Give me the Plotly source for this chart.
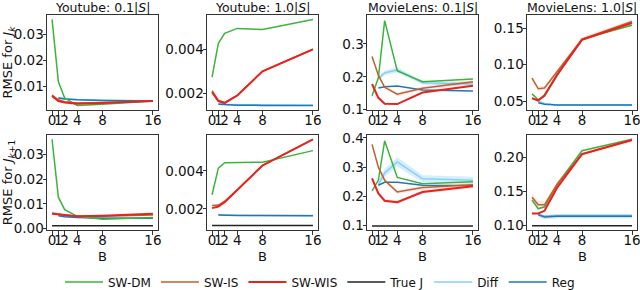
import plotly.graph_objects as go

# ---------------- data ----------------
B_all = [0, 1, 2, 4, 8, 16]
B_reg = [1, 2, 4, 8, 16]

panel_titles = ["Youtube: 0.1|<i>S</i>|", "Youtube: 1.0|<i>S</i>|",
                "MovieLens: 0.1|<i>S</i>|", "MovieLens: 1.0|<i>S</i>|"]
row_labels = ["RMSE for <i>J<sub>k</sub></i>", "RMSE for <i>J</i><sub><i>k</i>+1</sub>"]
x_ticks = [0, 1, 2, 4, 8, 16]
x_ticklabels = ["0", "1", "2", "4", "8", "16"]

# row 1 (J_k)
r1_dm = [
    [0.0357, 0.0120, 0.0057, 0.0028, 0.0033, 0.0045],
    [0.00273, 0.00427, 0.00473, 0.00495, 0.0049, 0.00536],
    [0.142, 0.197, 0.371, 0.218, 0.185, 0.193],
    [0.060, 0.052, 0.057, 0.085, 0.135, 0.154],
]
r1_is = [
    [0.0068, 0.0050, 0.0043, 0.0038, 0.0040, 0.0045],
    [0.00212, 0.00168, 0.00158, 0.0019, 0.0030, 0.0040],
    [0.262, 0.205, 0.168, 0.147, 0.165, 0.185],
    [0.0815, 0.067, 0.068, 0.090, 0.135, 0.159],
]
r1_wis = [
    [0.0065, 0.0045, 0.0040, 0.0035, 0.0038, 0.0045],
    [0.00205, 0.00164, 0.00155, 0.0019, 0.0030, 0.0040],
    [0.178, 0.136, 0.118, 0.117, 0.152, 0.173],
    [0.054, 0.051, 0.058, 0.086, 0.134, 0.157],
]
r1_diff = [
    [0.0059, 0.0054, 0.0051, 0.0048, 0.0046],
    [0.00153, 0.0015, 0.00148, 0.00147, 0.00146],
    [0.195, 0.212, 0.221, 0.182, 0.178],
    [0.050, 0.047, 0.045, 0.045, 0.045],
]
r1_reg = [
    [0.0057, 0.0053, 0.0050, 0.0047, 0.0045],
    [0.0015, 0.00148, 0.00146, 0.00145, 0.00144],
    [0.166, 0.170, 0.172, 0.160, 0.157],
    [0.048, 0.046, 0.045, 0.045, 0.045],
]

# row 2 (J_{k+1})
r2_dm = [
    [0.0360, 0.0127, 0.0077, 0.0050, 0.0038, 0.0045],
    [0.00274, 0.00414, 0.00442, 0.00442, 0.00445, 0.00506],
    [0.219, 0.255, 0.390, 0.265, 0.243, 0.250],
    [0.137, 0.124, 0.127, 0.160, 0.210, 0.227],
]
r2_is = [
    [0.0063, 0.0058, 0.0055, 0.0050, 0.0050, 0.0055],
    [0.00218, 0.0022, 0.0024, 0.0030, 0.00428, 0.00565],
    [0.378, 0.300, 0.255, 0.215, 0.230, 0.240],
    [0.141, 0.130, 0.130, 0.160, 0.205, 0.226],
]
r2_wis = [
    [0.0060, 0.0057, 0.0053, 0.0050, 0.0052, 0.0060],
    [0.00204, 0.00212, 0.00235, 0.0030, 0.00428, 0.00565],
    [0.262, 0.210, 0.185, 0.180, 0.215, 0.235],
    [0.117, 0.117, 0.121, 0.155, 0.205, 0.226],
]
r2_true = [0.0012, 0.00112, 0.099, 0.099]
r2_diff = [
    [0.0055, 0.0050, 0.0047, 0.0044, 0.0043],
    [0.0017, 0.00167, 0.00166, 0.00166, 0.00165],
    [0.240, 0.280, 0.318, 0.260, 0.255],
    [0.116, 0.113, 0.114, 0.114, 0.114],
]
r2_reg = [
    [0.0052, 0.0048, 0.0045, 0.0042, 0.0042],
    [0.00168, 0.00166, 0.00165, 0.00165, 0.00164],
    [0.238, 0.248, 0.248, 0.238, 0.237],
    [0.115, 0.112, 0.113, 0.113, 0.113],
]

# faint uncertainty bands (half-widths): (row, col, method) -> values
band_halfwidth = {
    (0, 2, "Diff"): [0.006, 0.007, 0.008, 0.006, 0.006],
    (0, 2, "SW-IS"): [0.006, 0.006, 0.006, 0.006, 0.006, 0.006],
    (0, 3, "SW-IS"): [0.003, 0.003, 0.003, 0.003, 0.003, 0.003],
    (1, 2, "Diff"): [0.012, 0.014, 0.016, 0.012, 0.012],
    (1, 2, "SW-IS"): [0.008, 0.008, 0.008, 0.008, 0.007, 0.007],
    (1, 2, "SW-WIS"): [0.006, 0.006, 0.006, 0.006, 0.006, 0.006],
    (1, 3, "SW-IS"): [0.006, 0.006, 0.006, 0.004, 0.003, 0.003],
    (1, 3, "Reg"): [0.003, 0.003, 0.003, 0.003, 0.003],
}

y_ranges = [
    [[0.0011, 0.0374], [0.00124, 0.00556], [0.099, 0.388], [0.038, 0.168]],
    [[-0.0005, 0.0377], [0.00089, 0.00588], [0.085, 0.41], [0.0926, 0.2334]],
]
y_ticks = [
    [[0.01, 0.02, 0.03], [0.002, 0.004], [0.1, 0.2, 0.3], [0.05, 0.10, 0.15]],
    [[0.00, 0.01, 0.02, 0.03], [0.002, 0.004], [0.1, 0.2, 0.3, 0.4], [0.10, 0.15, 0.20]],
]
y_ticklabels = [
    [["0.01", "0.02", "0.03"], ["0.002", "0.004"], ["0.1", "0.2", "0.3"], ["0.05", "0.10", "0.15"]],
    [["0.00", "0.01", "0.02", "0.03"], ["0.002", "0.004"], ["0.1", "0.2", "0.3", "0.4"], ["0.10", "0.15", "0.20"]],
]

# ---------------- style ----------------
C = {"SW-DM": "#3cb43c", "SW-IS": "#b8652f", "SW-WIS": "#e8231d",
     "True J": "#222222", "Diff": "#87cefa", "Reg": "#1f77b4"}
BAND = {"SW-DM": "rgba(60,180,60,0.15)", "SW-IS": "rgba(232,80,60,0.13)",
        "SW-WIS": "rgba(232,35,29,0.12)", "Diff": "rgba(135,206,250,0.35)",
        "Reg": "rgba(31,119,180,0.2)"}
RANK = {"SW-DM": 1, "SW-IS": 2, "SW-WIS": 3, "True J": 4, "Diff": 5, "Reg": 6}
W, H = 640, 290
FONT = "DejaVu Sans"

px_x = [(47, 158), (207, 318), (367, 478), (527, 637)]
px_y = [(15, 110), (135, 230)]

fig = go.Figure()
shown = set()


def axn(ax_idx):
    return ("x" if ax_idx == 1 else f"x{ax_idx}", "y" if ax_idx == 1 else f"y{ax_idx}")


def add(name, x, y, ax_idx, r, c):
    xa, ya = axn(ax_idx)
    hw = band_halfwidth.get((r, c, name))
    if hw:
        fig.add_trace(go.Scatter(x=x, y=[v + h for v, h in zip(y, hw)], mode="lines",
                                 line=dict(width=0), showlegend=False, hoverinfo="skip",
                                 xaxis=xa, yaxis=ya))
        fig.add_trace(go.Scatter(x=x, y=[v - h for v, h in zip(y, hw)], mode="lines",
                                 line=dict(width=0), fill="tonexty", fillcolor=BAND[name],
                                 showlegend=False, hoverinfo="skip", xaxis=xa, yaxis=ya))
    sl = name not in shown
    shown.add(name)
    fig.add_trace(go.Scatter(
        x=x, y=y, mode="lines", name=name, legendgroup=name, showlegend=sl,
        legendrank=RANK[name],
        line=dict(color=C[name], width=2 if name == "SW-WIS" else 1.5),
        xaxis=xa, yaxis=ya,
    ))


for r in range(2):
    for c in range(4):
        idx = r * 4 + c + 1
        if r == 0:
            add("Diff", B_reg, r1_diff[c], idx, r, c)
            add("Reg", B_reg, r1_reg[c], idx, r, c)
            add("SW-DM", B_all, r1_dm[c], idx, r, c)
            add("SW-IS", B_all, r1_is[c], idx, r, c)
            add("SW-WIS", B_all, r1_wis[c], idx, r, c)
        else:
            add("True J", B_all, [r2_true[c]] * len(B_all), idx, r, c)
            add("Diff", B_reg, r2_diff[c], idx, r, c)
            add("Reg", B_reg, r2_reg[c], idx, r, c)
            add("SW-DM", B_all, r2_dm[c], idx, r, c)
            add("SW-IS", B_all, r2_is[c], idx, r, c)
            add("SW-WIS", B_all, r2_wis[c], idx, r, c)

        sfx = "" if idx == 1 else str(idx)
        x0, x1 = px_x[c]
        y0, y1 = px_y[r]
        axstyle = dict(showline=True, mirror=True, linecolor="#333333", linewidth=1,
                       ticks="outside", ticklen=3.5, tickwidth=1, tickcolor="#333333",
                       showgrid=False, zeroline=False, tickangle=0,
                       tickfont=dict(family=FONT, size=13.5, color="#111111"))
        fig.layout["xaxis" + sfx] = dict(
            domain=[x0 / W, x1 / W], anchor="y" + sfx, range=[-0.8, 16.8],
            tickvals=x_ticks, ticktext=x_ticklabels, ticklabelstandoff=-6,
            ticklabeloverflow="allow",
            **axstyle)
        fig.layout["yaxis" + sfx] = dict(
            domain=[1 - y1 / H, 1 - y0 / H], anchor="x" + sfx, range=y_ranges[r][c],
            tickvals=y_ticks[r][c], ticktext=y_ticklabels[r][c], ticklabelstandoff=-4,
            **axstyle)
        if c == 0:
            fig.layout["yaxis" + sfx].title = dict(
                text=row_labels[r], standoff=5,
                font=dict(family=FONT, size=13, color="#111111"))

annotations = []
for c in range(4):
    x0, x1 = px_x[c]
    annotations.append(dict(text=panel_titles[c], x=(x0 + x1) / 2 / W, y=1 - 7 / H,
                            xref="paper", yref="paper", showarrow=False,
                            xanchor="center", yanchor="middle",
                            font=dict(family=FONT, size=12.5, color="#111111")))
    annotations.append(dict(text="B", x=(x0 + x1) / 2 / W, y=1 - 256 / H,
                            xref="paper", yref="paper", showarrow=False,
                            xanchor="center", yanchor="middle",
                            font=dict(family=FONT, size=13, color="#111111")))

fig.update_layout(
    width=W, height=H, margin=dict(l=0, r=0, t=0, b=0, autoexpand=False),
    paper_bgcolor="white", plot_bgcolor="white",
    annotations=annotations,
    legend=dict(orientation="h", x=0.5, xanchor="center", y=1 - 282 / H, yanchor="middle",
                font=dict(family=FONT, size=12, color="#111111"),
                traceorder="normal", itemwidth=38, bgcolor="rgba(0,0,0,0)"),
    showlegend=True,
)

fig.write_html("out.html", config={"displayModeBar": False},
               post_script="document.body.style.margin='0';")
